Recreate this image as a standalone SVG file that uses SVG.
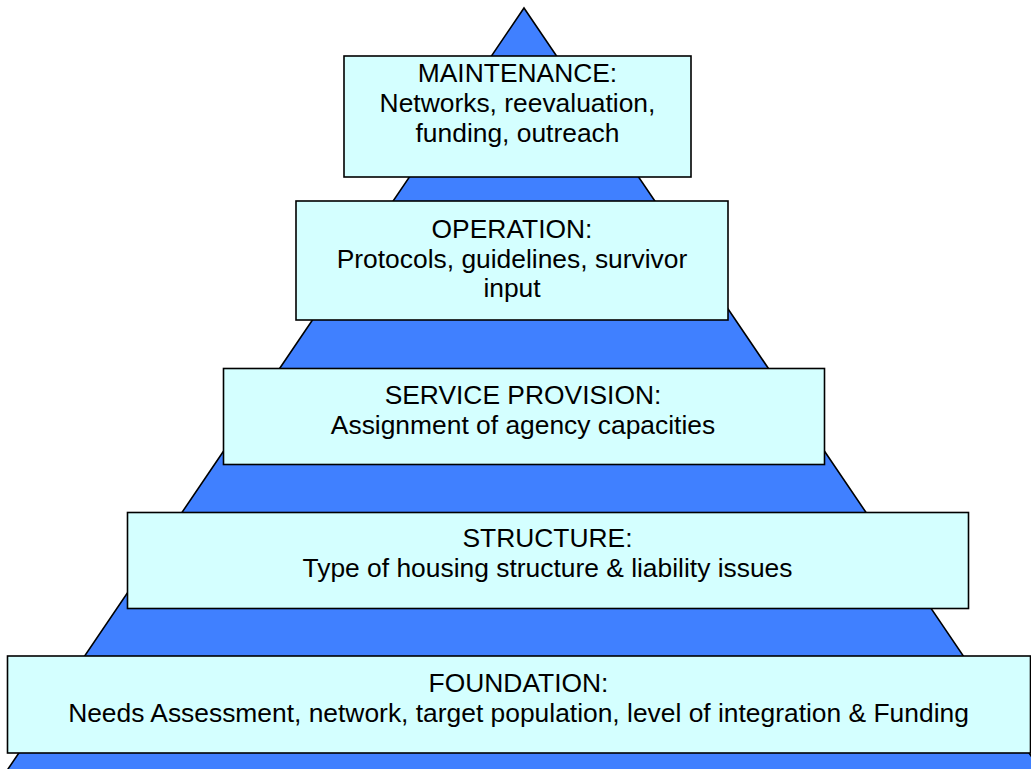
<svg xmlns="http://www.w3.org/2000/svg" width="1031" height="769" viewBox="0 0 1031 769">
<style>
.tri{fill:#4080FF;stroke:#000;stroke-width:1.6}
.box{fill:#D4FFFF;stroke:#000;stroke-width:1.6}
.t{font-family:"Liberation Sans",Arial,sans-serif;font-size:26.4px;fill:#000;text-anchor:middle}
</style>
<rect width="1031" height="769" fill="#fff"/>
<polygon class="tri" points="524,8 1061,800 -13,800"/>
<g id="maintenance">
<rect class="box" x="344" y="56" width="347" height="121"/>
<text class="t" x="517.5" y="82">MAINTENANCE:</text>
<text class="t" x="517.5" y="112">Networks, reevaluation,</text>
<text class="t" x="517.5" y="142">funding, outreach</text>
</g>
<g id="operation">
<rect class="box" x="296" y="201" width="432" height="119"/>
<text class="t" x="512" y="238">OPERATION:</text>
<text class="t" x="512" y="267.5">Protocols, guidelines, survivor</text>
<text class="t" x="512" y="297">input</text>
</g>
<g id="service">
<rect class="box" x="223.5" y="368.5" width="601" height="96"/>
<text class="t" x="523" y="403.5">SERVICE PROVISION:</text>
<text class="t" x="523" y="434">Assignment of agency capacities</text>
</g>
<g id="structure">
<rect class="box" x="127.5" y="512.5" width="841" height="96"/>
<text class="t" x="547.5" y="546.5">STRUCTURE:</text>
<text class="t" x="547.5" y="576.5">Type of housing structure &amp; liability issues</text>
</g>
<g id="foundation">
<rect class="box" x="7.5" y="656" width="1023" height="97"/>
<text class="t" x="518.5" y="691.5">FOUNDATION:</text>
<text class="t" x="518.5" y="721.5">Needs Assessment, network, target population, level of integration &amp; Funding</text>
</g>
<g id="connectors"/>
</svg>
